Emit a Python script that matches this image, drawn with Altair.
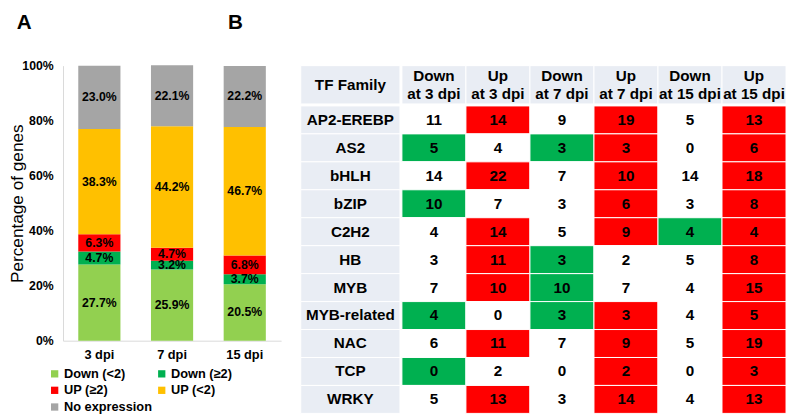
import altair as alt
import pandas as pd

# ---------------- Panel A data ----------------
days = ["3 dpi", "7 dpi", "15 dpi"]
categories = ["Down (<2)", "Down (≥2)", "UP (≥2)", "UP (<2)", "No expression"]
cat_colors = ["#92D050", "#00B050", "#FF0000", "#FFC000", "#A5A5A5"]
pct_3dpi = [27.7, 4.7, 6.3, 38.3, 23.0]
pct_7dpi = [25.9, 3.2, 4.7, 44.2, 22.1]
pct_15dpi = [20.5, 3.7, 6.8, 46.7, 22.2]
y_ticks = [0, 20, 40, 60, 80, 100]
# legend is filled column by column: this index order reads row by row on screen
legend_index = [0, 2, 4, 1, 3]

# ---------------- Panel B data ----------------
families = ["AP2-EREBP", "AS2", "bHLH", "bZIP", "C2H2", "HB", "MYB",
            "MYB-related", "NAC", "TCP", "WRKY"]
col_headers = ["Down\nat 3 dpi", "Up\nat 3 dpi", "Down\nat 7 dpi",
               "Up\nat 7 dpi", "Down\nat 15 dpi", "Up\nat 15 dpi"]
col_direction = ["down", "up", "down", "up", "down", "up"]
counts_down_3 = [11, 5, 14, 10, 4, 3, 7, 4, 6, 0, 5]
counts_up_3 = [14, 4, 22, 7, 14, 11, 10, 0, 11, 2, 13]
counts_down_7 = [9, 3, 7, 3, 5, 3, 10, 3, 7, 0, 3]
counts_up_7 = [19, 3, 10, 6, 9, 2, 7, 3, 9, 2, 14]
counts_down_15 = [5, 0, 14, 3, 4, 5, 4, 4, 5, 0, 4]
counts_up_15 = [13, 6, 18, 8, 4, 8, 15, 5, 19, 3, 13]
sig_down_3 = [0, 1, 0, 1, 0, 0, 0, 1, 0, 1, 0]
sig_up_3 = [1, 0, 1, 0, 1, 1, 1, 0, 1, 0, 1]
sig_down_7 = [0, 1, 0, 0, 0, 1, 1, 1, 0, 0, 0]
sig_up_7 = [1, 1, 1, 1, 1, 0, 0, 1, 1, 1, 1]
sig_down_15 = [0, 0, 0, 0, 1, 0, 0, 0, 0, 0, 0]
sig_up_15 = [1, 1, 1, 1, 1, 1, 1, 1, 1, 1, 1]

FONT = "Liberation Sans"
LIGHT = "#E9EDF4"

# ---------------- Panel A chart ----------------
bar_df = pd.DataFrame({
    "day": [d for d in days for _ in categories],
    "cat": categories * len(days),
    "order": list(range(len(categories))) * len(days),
    "pct": pct_3dpi + pct_7dpi + pct_15dpi,
})

base = alt.Chart(bar_df).transform_stack(
    stack="pct", groupby=["day"], sort=[alt.SortField("order")], as_=["p0", "p1"]
).transform_calculate(
    mid="(datum.p0 + datum.p1) / 2",
    label="format(datum.pct, '.1f') + '%'",
)

x_enc = alt.X(
    "day:N", sort=days,
    scale=alt.Scale(paddingInner=0.42, paddingOuter=0.21),
    axis=alt.Axis(title=None, labelAngle=0, ticks=False, domainColor="#D9D9D9",
                  labelFontSize=13, labelFontWeight="bold", labelColor="black",
                  labelPadding=8),
)
y_scale = alt.Scale(domain=[0, 100], nice=False)

legend_domain = [categories[i] for i in legend_index]
legend_range = [cat_colors[i] for i in legend_index]

bars = base.mark_bar().encode(
    x=x_enc,
    y=alt.Y("p0:Q", scale=y_scale,
            axis=alt.Axis(values=y_ticks, labelExpr="datum.value + '%'", ticks=False,
                          grid=False, domainColor="#D9D9D9", labelFontSize=12.5,
                          labelFontWeight="bold", labelColor="black", labelPadding=10,
                          title="Percentage of genes", titleFontSize=17.5,
                          titleFontWeight="normal", titleColor="black", titleX=-37)),
    y2="p1:Q",
    color=alt.Color("cat:N",
                    scale=alt.Scale(domain=legend_domain, range=legend_range),
                    title=None,
                    legend=alt.Legend(orient="none", legendX=-15, legendY=307, columns=2,
                                      symbolType="square", symbolSize=55,
                                      symbolStrokeWidth=0, labelFontSize=13,
                                      labelFontWeight="bold", labelColor="black",
                                      columnPadding=3, rowPadding=3, labelOffset=3,
                                      labelLimit=300)),
)

texts = base.mark_text(fontSize=12.5, fontWeight="bold", color="black").encode(
    x=alt.X("day:N", sort=days),
    y=alt.Y("mid:Q", scale=y_scale),
    text="label:N",
)

left = alt.layer(bars, texts).properties(
    width=222, height=280,
    title=alt.TitleParams("A", anchor="start", frame="group", fontSize=21,
                          fontWeight="bold", color="black", dx=-47, offset=27),
)

# ---------------- Panel B chart ----------------
count_cols = [counts_down_3, counts_up_3, counts_down_7, counts_up_7,
              counts_down_15, counts_up_15]
sig_cols = [sig_down_3, sig_up_3, sig_down_7, sig_up_7, sig_down_15, sig_up_15]
rows = []
for ci, hdr in enumerate(col_headers):
    for ri, fam in enumerate(families):
        rows.append({
            "col": hdr,
            "family": fam,
            "count": count_cols[ci][ri],
            "status": col_direction[ci] if sig_cols[ci][ri] else "none",
        })
cell_df = pd.DataFrame(rows)

band0 = alt.Scale(paddingInner=0, paddingOuter=0)
TW = 101
CW = 391
HH = 39
BH = 313

hdr_tf = alt.Chart(pd.DataFrame({"col": ["TF Family"]})).encode(
    x=alt.X("col:N", axis=None, scale=band0))
hdr_tf = alt.layer(
    hdr_tf.mark_rect(fill=LIGHT, stroke="white", strokeWidth=1),
    hdr_tf.mark_text(fontSize=15.5, fontWeight="bold", color="black").encode(text="col:N"),
).properties(width=TW, height=HH)

hdr_cells = alt.Chart(pd.DataFrame({"col": col_headers})).encode(
    x=alt.X("col:N", sort=col_headers, axis=None, scale=band0))
hdr_cells = alt.layer(
    hdr_cells.mark_rect(fill=LIGHT, stroke="white", strokeWidth=1),
    hdr_cells.mark_text(fontSize=15.5, fontWeight="bold", color="black",
                        lineBreak="\n", lineHeight=18.5, dy=-9).encode(text="col:N"),
).properties(width=CW, height=HH)

body_tf = alt.Chart(pd.DataFrame({"family": families})).encode(
    y=alt.Y("family:N", sort=families, axis=None, scale=band0))
body_tf = alt.layer(
    body_tf.mark_rect(fill=LIGHT, stroke="white", strokeWidth=1),
    body_tf.mark_text(fontSize=15.5, fontWeight="bold", color="black").encode(text="family:N"),
).properties(width=TW, height=BH)

cells = alt.Chart(cell_df).encode(
    x=alt.X("col:N", sort=col_headers, axis=None, scale=band0),
    y=alt.Y("family:N", sort=families, axis=None, scale=band0),
)
body_cells = alt.layer(
    cells.mark_rect(stroke="white", strokeWidth=1).encode(
        fill=alt.Fill("status:N",
                      scale=alt.Scale(domain=["up", "down", "none"],
                                      range=["#FF0000", "#00B050", "#FFFFFF"]),
                      legend=None)),
    cells.mark_text(fontSize=15.5, fontWeight="bold", color="black").encode(text="count:Q"),
).properties(width=CW, height=BH)

right = alt.vconcat(
    alt.hconcat(hdr_tf, hdr_cells, spacing=0),
    alt.hconcat(body_tf, body_cells, spacing=0),
    spacing=0,
    title=alt.TitleParams("B", anchor="start", frame="group", fontSize=21,
                          fontWeight="bold", color="black", dx=-74, offset=33),
)

chart = alt.hconcat(left, right, spacing=20, bounds="flush").properties(
    padding=0
).configure(font=FONT).configure_view(strokeWidth=0)

chart.save("out.html", embed_options={"renderer": "svg", "actions": False})
